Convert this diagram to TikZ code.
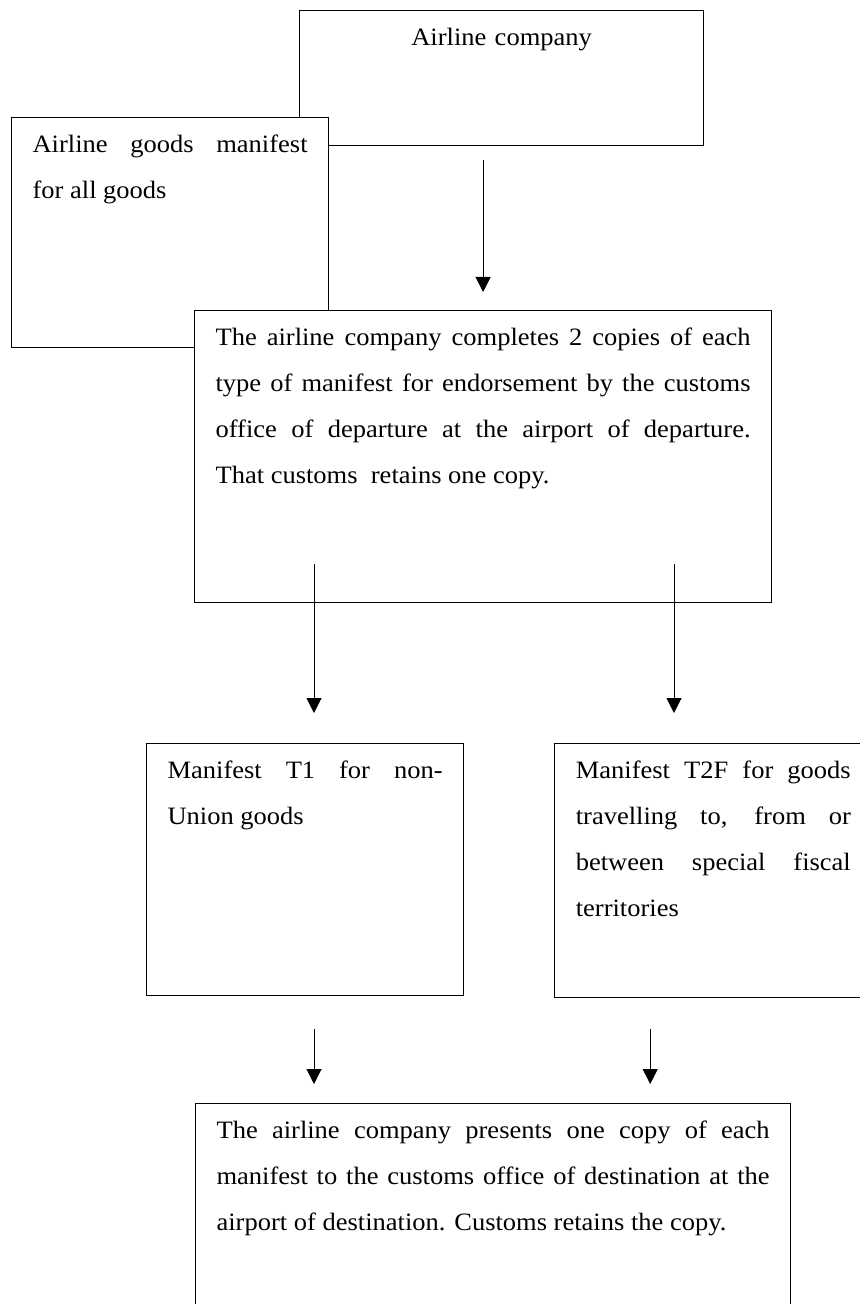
\documentclass[tikz,border=0pt]{standalone}
\usepackage{fontspec}
\setmainfont{Liberation Serif}[FakeStretch=1.06]
\usepackage{tikz}
\usetikzlibrary{arrows.meta, positioning}

\begin{document}
\begin{tikzpicture}[
    box/.style={rectangle, draw, line width=0.6pt, fill=white, anchor=north west, inner xsep=10.5pt, inner ysep=4pt, text height=13.5pt, align=justify, font=\fontsize{12.5pt}{23pt}\selectfont},
    arrow/.style={-{Triangle[length=7.5pt, width=7.5pt]}, line width=0.5pt}
]
\useasboundingbox (0,0) rectangle (430pt,-652pt);

% Top: carrier, general manifest, endorsement
\node[box, align=center, text width=181pt, text depth=46pt] (company) at (149.5pt,-5pt) {Airline company};
\node[box, text width=137.5pt, text depth=93.5pt] (allgoods) at (5.5pt,-58.5pt) {Airline goods manifest\linebreak for all goods};
\node[box, text width=267.5pt, text depth=124.5pt] (endorse) at (97pt,-155pt) {The airline company completes 2 copies of each\linebreak type of manifest for endorsement by the customs\linebreak office of departure at the airport of departure.\linebreak That customs~~retains one copy.};

% Middle: the two manifest types
\node[box, text width=137.5pt, text depth=104.5pt] (tone) at (73pt,-371.5pt) {Manifest T1 for non-\linebreak Union goods};
\node[box, right=45pt of tone.north east, anchor=north west, text width=137.5pt, text depth=105.5pt] (ttwof) {Manifest T2F for goods\linebreak travelling to, from or\linebreak between special fiscal\linebreak territories};

% Bottom: destination
\node[box, text width=276.5pt, text depth=97pt] (dest) at (97.5pt,-551.5pt) {The airline company presents one copy of each\linebreak manifest to the customs office of destination at the\linebreak airport of destination. Customs retains the copy.};

% Arrows
\draw[arrow, shorten <=7pt, shorten >=9pt] (company.south -| endorse.north) -- (endorse.north);
\draw[arrow, shorten >=15pt] ([xshift=60pt, yshift=19.5pt]endorse.south west) -- ([xshift=60pt]endorse.south west |- tone.north);
\draw[arrow, shorten >=15pt] ([xshift=240pt, yshift=19.5pt]endorse.south west) -- ([xshift=240pt]endorse.south west |- ttwof.north);
\draw[arrow, shorten >=9.5pt] ([xshift=84pt, yshift=-16.5pt]tone.south west) -- ([xshift=84pt]tone.south west |- dest.north);
\draw[arrow, shorten >=9.5pt] ([xshift=48pt, yshift=-15.5pt]ttwof.south west) -- ([xshift=48pt]ttwof.south west |- dest.north);

\end{tikzpicture}
\end{document}
